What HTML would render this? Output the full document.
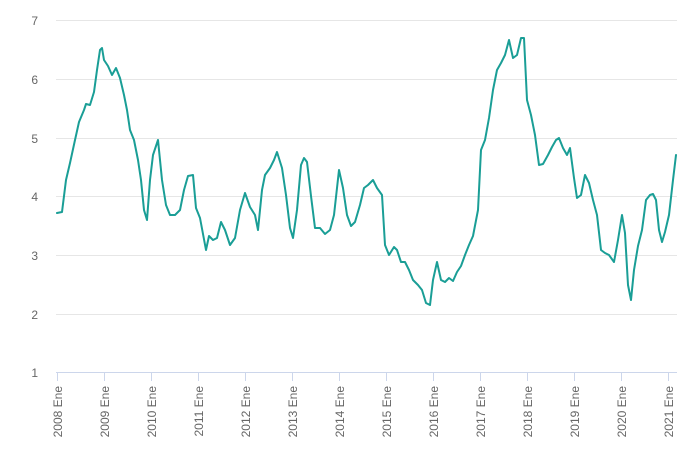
<!DOCTYPE html>
<html><head><meta charset="utf-8"><style>
html,body{margin:0;padding:0;background:#fff;}
svg{display:block;font-family:"Liberation Sans",sans-serif;}
</style></head><body>
<svg width="700" height="461" viewBox="0 0 700 461">
<g stroke="#e6e6e6" stroke-width="1">
<line x1="56" x2="677" y1="20.5" y2="20.5"/>
<line x1="56" x2="677" y1="79.5" y2="79.5"/>
<line x1="56" x2="677" y1="138.5" y2="138.5"/>
<line x1="56" x2="677" y1="196.5" y2="196.5"/>
<line x1="56" x2="677" y1="255.5" y2="255.5"/>
<line x1="56" x2="677" y1="314.5" y2="314.5"/>
</g>
<line x1="56" x2="677" y1="372.5" y2="372.5" stroke="#ccd6eb" stroke-width="1"/>
<g fill="#666" font-size="12" text-anchor="end">
<text x="38" y="25">7</text><text x="38" y="84">6</text><text x="38" y="143">5</text>
<text x="38" y="201">4</text><text x="38" y="260">3</text><text x="38" y="319">2</text><text x="38" y="377">1</text>
</g>
<g stroke="#ccd6eb" stroke-width="1">
<line x1="57.5" x2="57.5" y1="372" y2="381"/><line x1="104.5" x2="104.5" y1="372" y2="381"/>
<line x1="151.5" x2="151.5" y1="372" y2="381"/><line x1="198.5" x2="198.5" y1="372" y2="381"/>
<line x1="245.5" x2="245.5" y1="372" y2="381"/><line x1="292.5" x2="292.5" y1="372" y2="381"/>
<line x1="339.5" x2="339.5" y1="372" y2="381"/><line x1="386.5" x2="386.5" y1="372" y2="381"/>
<line x1="433.5" x2="433.5" y1="372" y2="381"/><line x1="480.5" x2="480.5" y1="372" y2="381"/>
<line x1="527.5" x2="527.5" y1="372" y2="381"/><line x1="574.5" x2="574.5" y1="372" y2="381"/>
<line x1="621.5" x2="621.5" y1="372" y2="381"/><line x1="668.5" x2="668.5" y1="372" y2="381"/>
</g>
<g fill="#666" font-size="12" text-anchor="end">
<text transform="translate(62,386) rotate(-90)">2008 Ene</text>
<text transform="translate(109,386) rotate(-90)">2009 Ene</text>
<text transform="translate(156,386) rotate(-90)">2010 Ene</text>
<text transform="translate(203,386) rotate(-90)">2011 Ene</text>
<text transform="translate(250,386) rotate(-90)">2012 Ene</text>
<text transform="translate(297,386) rotate(-90)">2013 Ene</text>
<text transform="translate(344,386) rotate(-90)">2014 Ene</text>
<text transform="translate(391,386) rotate(-90)">2015 Ene</text>
<text transform="translate(438,386) rotate(-90)">2016 Ene</text>
<text transform="translate(485,386) rotate(-90)">2017 Ene</text>
<text transform="translate(532,386) rotate(-90)">2018 Ene</text>
<text transform="translate(579,386) rotate(-90)">2019 Ene</text>
<text transform="translate(626,386) rotate(-90)">2020 Ene</text>
<text transform="translate(673,386) rotate(-90)">2021 Ene</text>
</g>
<polyline fill="none" stroke="#1a9e96" stroke-width="2" stroke-linejoin="round" stroke-linecap="round" points="57,213 62,212 66,180 70,163 75,140 79,122 84,110 86,104 90,105 94,92 97,70 100,50 102,48 104,60 108,66 112,75 116,68 120,78 124,95 127,110 130,130 134,140 138,160 141,180 144,210 147,220 150,180 153,155 158,140 162,180 166,205 170,215 175,215 180,210 184,190 188,176 193,175 196,208 200,218 206,250 209,236 213,240 217,238 221,222 225,230 230,245 235,238 240,210 245,193 250,207 255,215 258,230 262,190 265,175 270,168 274,160 277,152 282,168 286,195 290,228 293,238 297,210 301,165 304,158 307,162 311,196 315,228 320,228 325,234 330,230 334,215 339,170 343,188 347,215 351,226 355,222 360,205 364,188 368,185 373,180 377,188 382,195 385,245 389,255 394,247 397,250 401,262 405,262 409,270 413,280 418,285 422,290 426,303 430,305 433,280 437,262 441,280 445,282 449,278 453,281 457,272 461,266 465,255 469,245 473,236 478,210 481,150 485,140 489,118 493,90 497,70 501,63 505,55 509,40 513,58 517,55 521,38 524,38 527,100 531,115 535,135 539,165 543,164 548,155 552,147 556,140 559,138 563,148 567,155 570,148 574,178 577,198 581,195 585,175 589,183 593,200 597,215 601,250 605,253 609,255 614,262 618,240 622,215 625,233 628,285 631,300 634,270 638,246 642,230 646,200 650,195 653,194 656,200 659,230 662,242 665,232 669,215 673,180 676,155"/>
</svg>
</body></html>
